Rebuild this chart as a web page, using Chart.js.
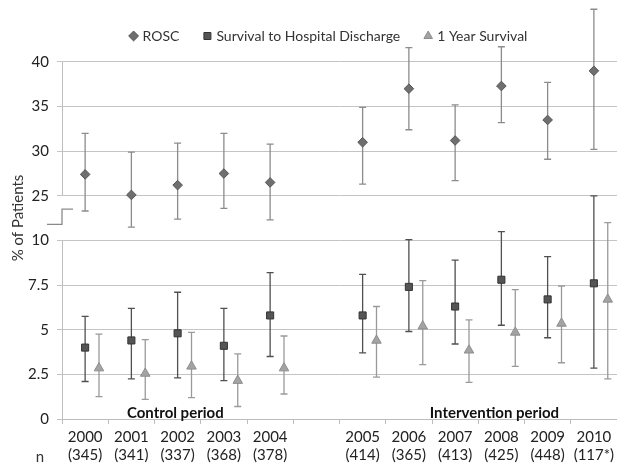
<!DOCTYPE html>
<html>
<head>
<meta charset="utf-8">
<script src="https://cdn.jsdelivr.net/npm/chart.js@4/dist/chart.umd.min.js"></script>
<style>
  html, body { margin: 0; background: #fff; }
  #wrap { width: 617px; height: 464px; }
</style>
</head>
<body>
<div id="wrap"><canvas id="grafico"></canvas></div>
<script>
// categories (blank slot separates control and intervention periods)
const years = ['2000', '2001', '2002', '2003', '2004', '', '2005', '2006', '2007', '2008', '2009', '2010'];
const nPatients = ['(345)', '(341)', '(337)', '(368)', '(378)', '', '(414)', '(365)', '(413)', '(425)', '(448)', '(117*)'];

// ROSC (%), with CI
const rosc     = [27.4, 25.1, 26.2, 27.5, 26.5, null, 31.0, 37.0, 31.2, 37.3, 33.5, 39.0];
const roscLow  = [23.3, 21.5, 22.4, 23.6, 22.3, null, 26.3, 32.4, 26.7, 33.2, 29.1, 30.2];
const roscHigh = [32.0, 29.9, 30.9, 32.0, 30.8, null, 34.9, 41.6, 35.2, 41.7, 37.7, 45.9];

// Survival to hospital discharge (%)
const discharge     = [4.0, 4.4, 4.8, 4.1, 5.8, null, 5.8, 7.4, 6.3, 7.8, 6.7, 7.6];
const dischargeLow  = [2.1, 2.25, 2.3, 2.15, 3.5, null, 3.7, 4.9, 4.2, 5.25, 4.55, 2.85];
const dischargeHigh = [5.75, 6.2, 7.1, 6.2, 8.2, null, 8.1, 10.05, 8.9, 10.5, 9.1, 12.5];

// 1 year survival (%)
const oneYear     = [2.85, 2.55, 2.95, 2.15, 2.85, null, 4.4, 5.2, 3.85, 4.85, 5.35, 6.7];
const oneYearLow  = [1.25, 1.1, 1.2, 0.7, 1.4, null, 2.35, 3.05, 2.05, 2.95, 3.15, 2.25];
const oneYearHigh = [4.75, 4.45, 4.85, 3.65, 4.65, null, 6.3, 7.75, 5.55, 7.25, 7.45, 11.0];

// broken y axis: 0-12.5 in steps of 2.5 below, 25-40 in steps of 5 above
const yTickLabels = ['0', '2.5', '5', '7.5', '10', '25', '30', '35', '40'];
function lowerAxis(v) { return v == null ? null : v / 2.5; }
function upperAxis(v) { return v == null ? null : 5 + (v - 25) / 5; }

const FONT = 'Lato, "Open Sans", sans-serif';

function points(values, conv, shift) {
  return values.map((v, i) => v == null ? null : { x: i + shift, y: conv(v) }).filter(p => p);
}
function bars(lo, hi, conv, shift) {
  return lo.map((v, i) => v == null ? null : { x: i + shift, lo: conv(v), hi: conv(hi[i]) }).filter(p => p);
}

const errorBars = {
  id: 'errorBars',
  afterLayout(chart) {
    // nudge legend a bit left, like the original
    chart.legend.left -= 10;
    chart.legend.right -= 10;
  },
  beforeDatasetsDraw(chart) {
    const { ctx, scales: { x, y } } = chart;
    ctx.save();
    chart.data.datasets.forEach(ds => {
      ctx.strokeStyle = ds.errColor;
      ctx.lineWidth = 1.3;
      ds.errors.forEach(e => {
        const px = x.getPixelForValue(e.x);
        const p1 = y.getPixelForValue(e.lo);
        const p2 = y.getPixelForValue(e.hi);
        ctx.beginPath();
        ctx.moveTo(px, p1); ctx.lineTo(px, p2);
        ctx.moveTo(px - 3.5, p1); ctx.lineTo(px + 3.5, p1);
        ctx.moveTo(px - 3.5, p2); ctx.lineTo(px + 3.5, p2);
        ctx.stroke();
      });
    });
    ctx.restore();
  },
  afterDraw(chart) {
    const { ctx, scales: { x, y } } = chart;
    const left = chart.chartArea.left;
    ctx.save();
    // y axis line with break
    ctx.strokeStyle = '#bdbdbd';
    ctx.lineWidth = 1;
    ctx.beginPath();
    ctx.moveTo(left + 0.5, y.getPixelForValue(8)); ctx.lineTo(left + 0.5, y.getPixelForValue(5));
    ctx.moveTo(left + 0.5, y.getPixelForValue(4)); ctx.lineTo(left + 0.5, y.getPixelForValue(0));
    ctx.stroke();
    ctx.strokeStyle = '#8a8a8a';
    ctx.lineWidth = 1.3;
    ctx.beginPath();
    const s1 = y.getPixelForValue(4.36), s2 = y.getPixelForValue(4.7);
    ctx.moveTo(left - 15, s1); ctx.lineTo(left, s1); ctx.lineTo(left, s2); ctx.lineTo(left + 11, s2);
    ctx.stroke();

    // y title
    ctx.fillStyle = '#333';
    ctx.font = '15px ' + FONT;
    ctx.textAlign = 'center';
    ctx.textBaseline = 'middle';
    ctx.save();
    ctx.translate(18, 218);
    ctx.rotate(-Math.PI / 2);
    ctx.fillText('% of Patients', 0, 0);
    ctx.restore();

    // n label
    ctx.fillText('n', 40, 457);

    // period labels
    ctx.font = 'bold 15px ' + FONT;
    ctx.fillStyle = '#111';
    ctx.fillText('Control period', x.getPixelForValue(1.95), y.getPixelForValue(0.14));
    ctx.fillText('Intervention period', x.getPixelForValue(8.85), y.getPixelForValue(0.14));
    ctx.restore();
  }
};

const ctx = document.getElementById('grafico').getContext('2d');
new Chart(ctx, {
  type: 'scatter',
  data: {
    datasets: [
      {
        label: 'ROSC',
        data: points(rosc, upperAxis, 0),
        errors: bars(roscLow, roscHigh, upperAxis, 0),
        errColor: '#8c8c8c',
        pointStyle: 'rectRot',
        pointRadius: 4.8,
        backgroundColor: '#6f6f6f',
        borderColor: '#545454',
        borderWidth: 1
      },
      {
        label: 'Survival to Hospital Discharge',
        data: points(discharge, lowerAxis, 0),
        errors: bars(dischargeLow, dischargeHigh, lowerAxis, 0),
        errColor: '#505050',
        pointStyle: 'rect',
        pointRadius: 5,
        backgroundColor: '#555555',
        borderColor: '#333333',
        borderWidth: 1
      },
      {
        label: '1 Year Survival',
        data: points(oneYear, lowerAxis, 0.3),
        errors: bars(oneYearLow, oneYearHigh, lowerAxis, 0.3),
        errColor: '#9a9a9a',
        pointStyle: 'triangle',
        pointRadius: 5.5,
        backgroundColor: '#a3a3a3',
        borderColor: '#8d8d8d',
        borderWidth: 1
      }
    ]
  },
  options: {
    responsive: true,
    maintainAspectRatio: false,
    animation: false,
    layout: { autoPadding: false, padding: { top: 3, left: 0, right: 0, bottom: 0 } },
    plugins: {
      tooltip: { enabled: false },
      legend: {
        position: 'top',
        fullSize: false,
        labels: {
          usePointStyle: true,
          boxHeight: 7,
          boxWidth: 4,
          padding: 26,
          color: '#333',
          font: { family: FONT, size: 14 }
        }
      }
    },
    scales: {
      x: {
        type: 'linear',
        min: -0.5,
        max: 11.5,
        afterBuildTicks: scale => { scale.ticks = years.map((yr, i) => ({ value: i })); },
        afterFit: scale => { scale.height = 45; scale.paddingLeft = 0; scale.paddingRight = 0; },
        ticks: {
          autoSkip: false,
          maxRotation: 0,
          padding: 4,
          color: '#222',
          font: { family: FONT, size: 15 },
          callback: v => years[v] ? [years[v], nPatients[v]] : ''
        },
        grid: { drawOnChartArea: false, offset: true, tickLength: 5, color: '#bdbdbd' },
        border: { color: '#bdbdbd' }
      },
      y: {
        min: 0,
        max: 8.2,
        afterBuildTicks: scale => { scale.ticks = yTickLabels.map((t, i) => ({ value: i })); },
        afterFit: scale => { scale.width = 62; },
        ticks: {
          padding: 8,
          color: '#222',
          font: { family: FONT, size: 15 },
          callback: v => yTickLabels[v]
        },
        grid: { color: '#c4c4c4', tickLength: 5 },
        border: { display: false }
      }
    }
  },
  plugins: [errorBars]
});
</script>
</body>
</html>
